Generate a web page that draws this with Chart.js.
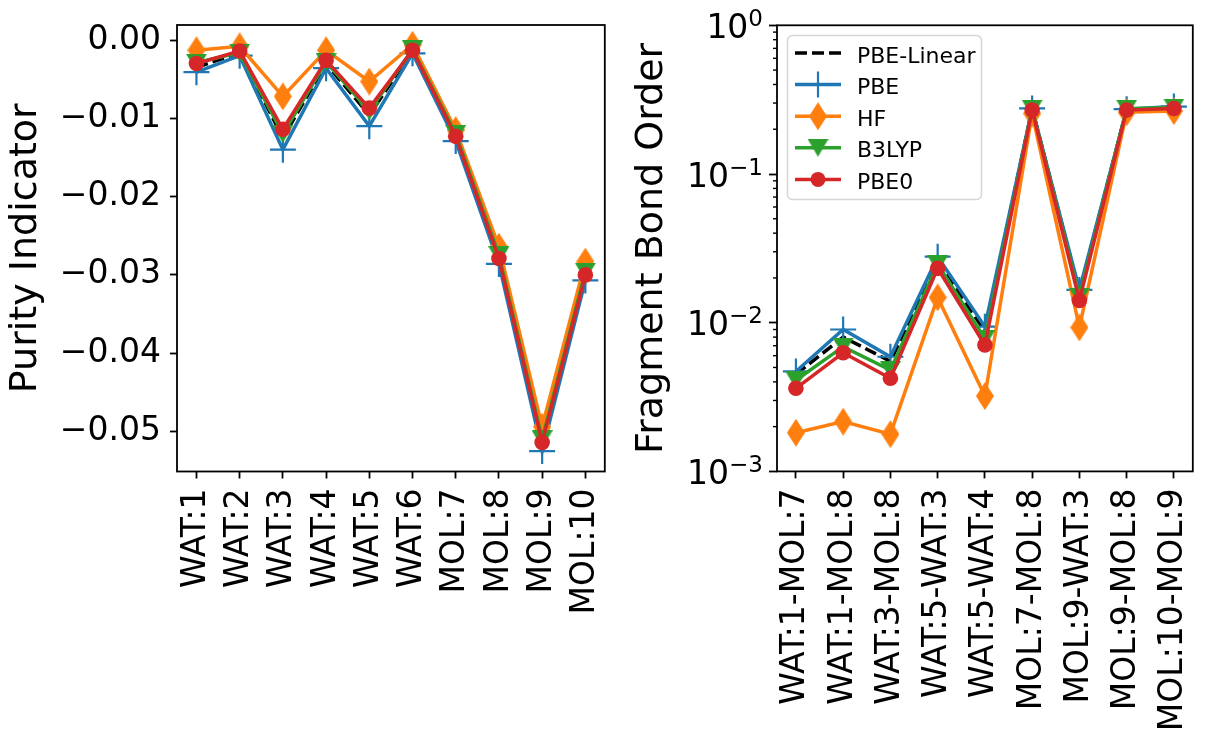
<!DOCTYPE html>
<html>
<head>
<meta charset="utf-8">
<script src="https://cdn.jsdelivr.net/npm/chart.js@4.4.0/dist/chart.umd.min.js"></script>
<style>
  html, body { margin: 0; padding: 0; background: #fff; }
  #wrap { position: relative; width: 1208px; height: 742px; }
  #left { position: absolute; left: 0; top: 0; }
  #right { position: absolute; left: 620px; top: 0; }
</style>
</head>
<body>
<div id="wrap">
  <canvas id="left" width="620" height="742"></canvas>
  <canvas id="right" width="588" height="742"></canvas>
</div>
<script>
// --- data ---
const fragments = ['WAT:1', 'WAT:2', 'WAT:3', 'WAT:4', 'WAT:5', 'WAT:6', 'MOL:7', 'MOL:8', 'MOL:9', 'MOL:10'];
const purityPBELinear = [-0.0035, -0.0016, -0.0125, -0.0030, -0.0096, -0.0014, -0.0125, -0.0281, -0.0516, -0.0303];
const purityPBE = [-0.0041, -0.0020, -0.0140, -0.0036, -0.0110, -0.0017, -0.0129, -0.0286, -0.0525, -0.0307];
const purityHF = [-0.0013, -0.0008, -0.0072, -0.0013, -0.0053, -0.0006, -0.0115, -0.0264, -0.0494, -0.0283];
const purityB3LYP = [-0.0029, -0.0016, -0.0120, -0.0028, -0.0091, -0.0012, -0.0120, -0.0275, -0.0510, -0.0296];
const purityPBE0 = [-0.0030, -0.0014, -0.0114, -0.0026, -0.0087, -0.0013, -0.0123, -0.0279, -0.0514, -0.0300];
const purityTicks = [0, -0.01, -0.02, -0.03, -0.04, -0.05];

const pairs = ['WAT:1-MOL:7', 'WAT:1-MOL:8', 'WAT:3-MOL:8', 'WAT:5-WAT:3', 'WAT:5-WAT:4', 'MOL:7-MOL:8', 'MOL:9-WAT:3', 'MOL:9-MOL:8', 'MOL:10-MOL:9'];
const bondPBELinear = [0.0045, 0.0080, 0.0055, 0.0255, 0.0088, 0.275, 0.0160, 0.272, 0.280];
const bondPBE = [0.0047, 0.0090, 0.0059, 0.0278, 0.0094, 0.276, 0.0166, 0.273, 0.284];
const bondHF = [0.00182, 0.00216, 0.00178, 0.0148, 0.00321, 0.255, 0.0093, 0.260, 0.265];
const bondB3LYP = [0.0041, 0.0069, 0.0048, 0.0248, 0.0078, 0.275, 0.0150, 0.275, 0.280];
const bondPBE0 = [0.00362, 0.00628, 0.00423, 0.0232, 0.00708, 0.269, 0.0141, 0.269, 0.276];
const bondTicks = [0.001, 0.01, 0.1, 1];

const BLUE = '#1f77b4', ORANGE = '#ff7f0e', GREEN = '#2ca02c', RED = '#d62728';
const FONT = 'DejaVu Sans';
const LW = 3.5;
Chart.defaults.font.family = FONT;
Chart.defaults.color = '#000';

// thin diamond and down triangle like matplotlib 'd' and 'v'
function markerImg(kind, color) {
  const c = document.createElement('canvas');
  const g = c.getContext('2d');
  if (kind === 'diamond') {
    c.width = 18; c.height = 28;
    g.fillStyle = color;
    g.beginPath(); g.moveTo(9, 0); g.lineTo(18, 14); g.lineTo(9, 28); g.lineTo(0, 14); g.closePath(); g.fill();
  } else {
    c.width = 21; c.height = 18;
    g.fillStyle = color;
    g.beginPath(); g.moveTo(0, 0); g.lineTo(21, 0); g.lineTo(10.5, 18); g.closePath(); g.fill();
  }
  return c;
}
const diamond = markerImg('diamond', ORANGE);
const triDown = markerImg('tri', GREEN);

function series(label, values, style) {
  return Object.assign({
    label: label,
    data: values.map((v, i) => ({ x: i, y: v })),
    borderWidth: LW,
    fill: false,
    tension: 0
  }, style);
}

function makeDatasets(lin, pbe, hf, b3, pbe0) {
  return [
    series('PBE-Linear', lin, { borderColor: '#000', borderDash: [12, 5], pointRadius: 0, order: 5 }),
    series('PBE', pbe, { borderColor: BLUE, pointStyle: 'cross', pointRadius: 13, pointBorderWidth: 2.2, pointBorderColor: BLUE, order: 4 }),
    series('HF', hf, { borderColor: ORANGE, pointStyle: diamond, order: 3 }),
    series('B3LYP', b3, { borderColor: GREEN, pointStyle: triDown, order: 2 }),
    series('PBE0', pbe0, { borderColor: RED, backgroundColor: RED, pointStyle: 'circle', pointRadius: 7.8, pointBorderWidth: 0, order: 1 })
  ];
}

const tickGrid = { drawOnChartArea: false, drawTicks: true, tickLength: 7, tickWidth: 1.8, tickColor: '#000' };

function xAxis(labels, margin, height) {
  return {
    type: 'linear',
    min: -margin,
    max: labels.length - 1 + margin,
    afterBuildTicks: s => { s.ticks = labels.map((_, i) => ({ value: i })); },
    afterFit: s => { s.height = height; s.paddingLeft = 0; s.paddingRight = 0; },
    ticks: { autoSkip: false, minRotation: 90, maxRotation: 90, padding: 10, font: { size: 33 }, callback: v => labels[v] },
    grid: tickGrid,
    border: { display: false }
  };
}

const framePlugin = {
  id: 'frame',
  afterDatasetsDraw(chart) {
    const a = chart.chartArea, ctx = chart.ctx;
    ctx.save();
    ctx.strokeStyle = '#000';
    ctx.lineWidth = 1.8;
    ctx.strokeRect(a.left, a.top, a.right - a.left, a.bottom - a.top);
    ctx.restore();
  }
};

// log axis: superscript labels and minor ticks
const logAxisPlugin = {
  id: 'logAxis',
  afterDraw(chart) {
    const s = chart.scales.y, ctx = chart.ctx;
    const left = chart.chartArea.left;
    ctx.save();
    ctx.strokeStyle = '#000';
    ctx.lineWidth = 1.4;
    for (let e = -3; e < 0; e++) {
      for (let m = 2; m <= 9; m++) {
        const y = s.getPixelForValue(m * Math.pow(10, e));
        ctx.beginPath(); ctx.moveTo(left - 4, y); ctx.lineTo(left, y); ctx.stroke();
      }
    }
    ctx.fillStyle = '#000';
    ctx.textBaseline = 'alphabetic';
    ctx.textAlign = 'right';
    const xr = left - 14;
    bondTicks.forEach(v => {
      const y = s.getPixelForValue(v);
      const p = Math.round(Math.log10(v));
      const exp = p === 0 ? '0' : '\u2212' + (-p);
      ctx.font = '23px ' + FONT;
      const ew = ctx.measureText(exp).width;
      ctx.fillText(exp, xr, y + 0.5);
      ctx.font = '33px ' + FONT;
      ctx.fillText('10', xr - ew, y + 12.5);
    });
    ctx.restore();
  }
};

const legendPlugin = {
  id: 'mplLegend',
  afterDraw(chart) {
    const ctx = chart.ctx;
    ctx.save();
    ctx.beginPath();
    ctx.roundRect(167.5, 35.5, 194, 164, 5);
    ctx.fillStyle = 'rgba(255,255,255,0.8)';
    ctx.fill();
    ctx.strokeStyle = '#d6d6d6';
    ctx.lineWidth = 1.5;
    ctx.stroke();
    chart.data.datasets.forEach((ds, i) => {
      const y = 53 + i * 31.6;
      ctx.strokeStyle = ds.borderColor;
      ctx.lineWidth = LW;
      ctx.setLineDash(ds.borderDash || []);
      ctx.beginPath(); ctx.moveTo(175, y); ctx.lineTo(221, y); ctx.stroke();
      ctx.setLineDash([]);
      const mx = 198;
      if (ds.pointStyle === 'cross') {
        ctx.lineWidth = 2.2;
        ctx.beginPath();
        ctx.moveTo(mx - 13, y); ctx.lineTo(mx + 13, y);
        ctx.moveTo(mx, y - 13); ctx.lineTo(mx, y + 13);
        ctx.stroke();
      } else if (ds.pointStyle === 'circle') {
        ctx.fillStyle = ds.backgroundColor;
        ctx.beginPath(); ctx.arc(mx, y, 7.5, 0, Math.PI * 2); ctx.fill();
      } else if (ds.pointRadius !== 0 && ds.pointStyle) {
        const im = ds.pointStyle;
        ctx.drawImage(im, mx - im.width / 2, y - im.height / 2);
      }
      ctx.fillStyle = '#000';
      ctx.font = '22px ' + FONT;
      ctx.textAlign = 'left';
      ctx.textBaseline = 'alphabetic';
      ctx.fillText(ds.label, 237, y + 9.5);
    });
    ctx.restore();
  }
};

const fmt = v => (Math.abs(v) < 1e-9 ? '0.00' : '\u2212' + Math.abs(v).toFixed(2));

new Chart(document.getElementById('left'), {
  type: 'line',
  data: { datasets: makeDatasets(purityPBELinear, purityPBE, purityHF, purityB3LYP, purityPBE0) },
  options: {
    responsive: false,
    animation: false,
    devicePixelRatio: 1,
    events: [],
    layout: { padding: { top: 25, right: 12, bottom: 0, left: 0 } },
    plugins: { legend: { display: false }, tooltip: { enabled: false } },
    scales: {
      x: xAxis(fragments, 0.45, 270.5),
      y: {
        min: -0.05511,
        max: 0.00192,
        afterBuildTicks: s => { s.ticks = purityTicks.map(v => ({ value: v })); },
        afterFit: s => { s.width = 177; s.paddingTop = 0; s.paddingBottom = 0; },
        ticks: { padding: 9, font: { size: 33 }, callback: v => fmt(v) },
        grid: tickGrid,
        border: { display: false },
        title: { display: true, text: 'Purity Indicator', font: { size: 38 }, padding: { top: 3, bottom: 0 } }
      }
    }
  },
  plugins: [framePlugin]
});

new Chart(document.getElementById('right'), {
  type: 'line',
  data: { datasets: makeDatasets(bondPBELinear, bondPBE, bondHF, bondB3LYP, bondPBE0) },
  options: {
    responsive: false,
    animation: false,
    devicePixelRatio: 1,
    events: [],
    layout: { padding: { top: 25.3, right: 1, bottom: 0, left: 0 } },
    plugins: { legend: { display: false }, tooltip: { enabled: false } },
    scales: {
      x: xAxis(pairs, 0.4, 270.6),
      y: {
        type: 'logarithmic',
        min: 0.001,
        max: 1,
        afterBuildTicks: s => { s.ticks = bondTicks.map(v => ({ value: v })); },
        afterFit: s => { s.width = 157; s.paddingTop = 0; s.paddingBottom = 0; },
        ticks: { display: false },
        grid: Object.assign({}, tickGrid, { tickLength: 8 }),
        border: { display: false },
        title: { display: true, text: 'Fragment Bond Order', font: { size: 38 }, padding: { top: 9, bottom: 0 } }
      }
    }
  },
  plugins: [framePlugin, logAxisPlugin, legendPlugin]
});
</script>
</body>
</html>
